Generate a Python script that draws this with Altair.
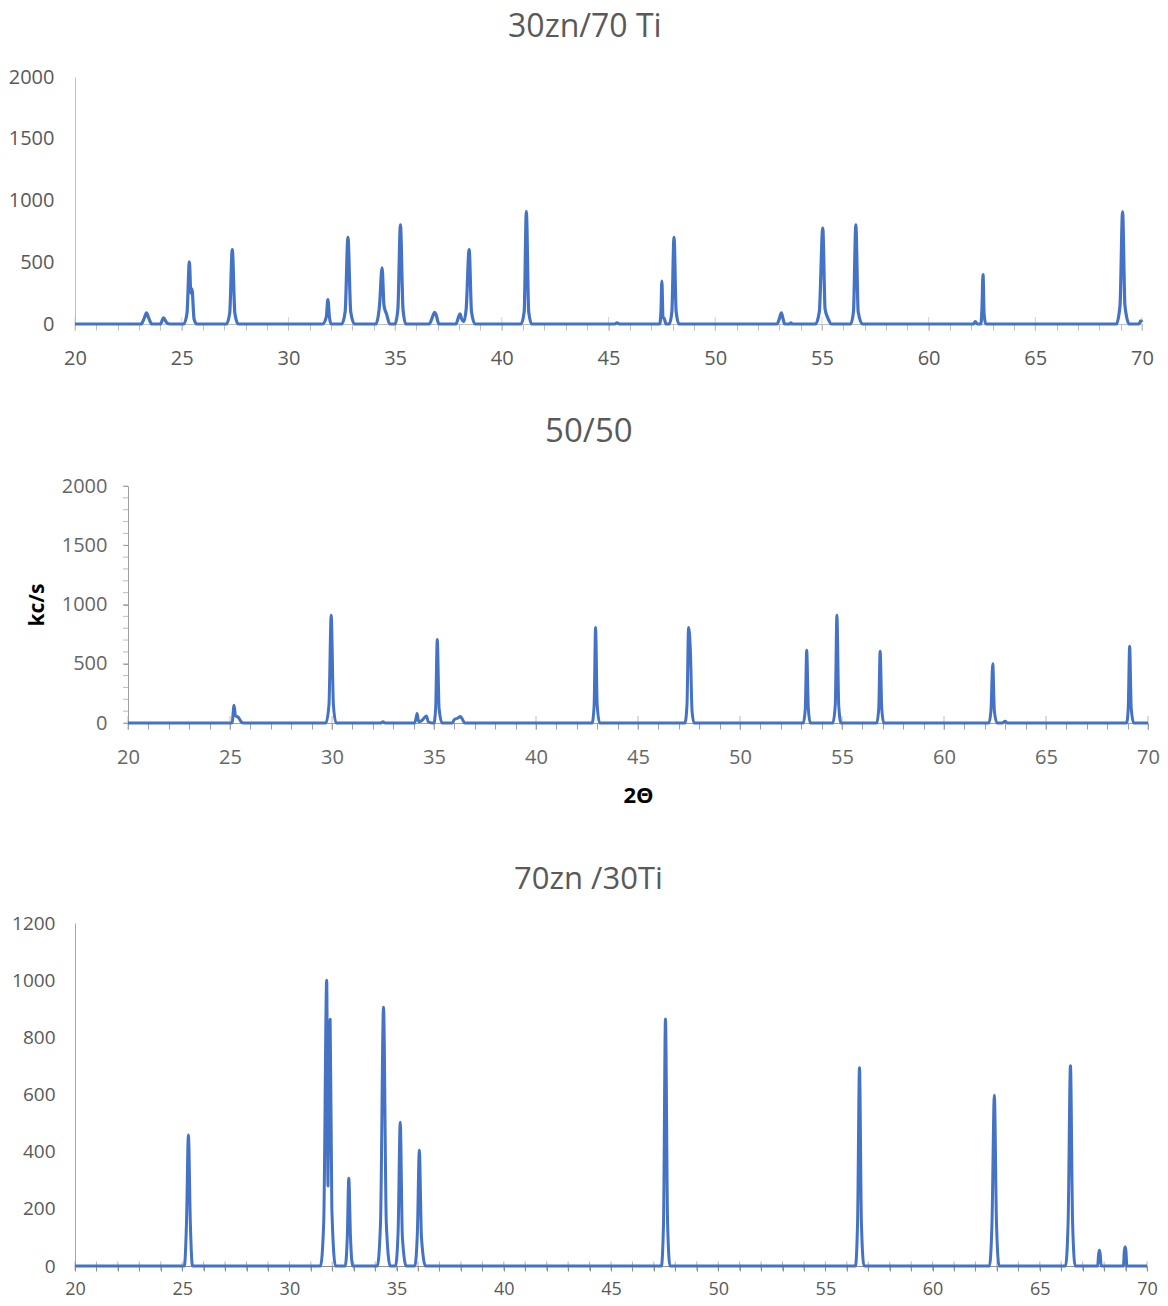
import altair as alt
import pandas as pd

# ---------------- data ----------------
x_30zn_70ti = [20.0,
    23.1, 23.25, 23.35, 23.45, 23.6,
    24.0, 24.15, 24.3, 24.45,
    25.1, 25.25, 25.36, 25.43, 25.48, 25.58, 25.7,
    27.1, 27.25, 27.37, 27.49, 27.65,
    31.6, 31.78, 31.85, 31.92, 32.0,
    32.5, 32.66, 32.79, 32.92, 33.1,
    34.1, 34.27, 34.39, 34.48, 34.6, 34.75,
    35.0, 35.13, 35.25, 35.37, 35.5,
    36.6, 36.78, 36.85, 36.93, 37.05,
    37.85, 37.98, 38.04, 38.12, 38.22, 38.33, 38.47, 38.58, 38.75,
    40.9, 41.05, 41.15, 41.26, 41.4,
    45.3, 45.4, 45.5,
    47.4, 47.46, 47.5, 47.55, 47.62, 47.7,
    47.85, 47.97, 48.07, 48.17, 48.3,
    52.9, 53.02, 53.1, 53.17, 53.25,
    53.5, 53.55, 53.6,
    54.7, 54.88, 55.04, 55.15, 55.3, 55.45,
    56.35, 56.48, 56.59, 56.7, 56.9,
    62.1, 62.19, 62.28, 62.45, 62.5, 62.55, 62.6, 62.68,
    68.8, 68.97, 69.09, 69.2, 69.4,
    69.85, 69.95, 70.0]
y_30zn_70ti = [0,
    0, 50, 90, 50, 0,
    0, 50, 10, 0,
    0, 90, 503, 250, 285, 40, 0,
    0, 90, 603, 90, 0,
    0, 60, 198, 60, 0,
    0, 100, 701, 100, 0,
    0, 150, 454, 150, 80, 0,
    0, 120, 802, 120, 0,
    0, 70, 95, 70, 0,
    0, 60, 82, 40, 20, 120, 603, 100, 0,
    0, 100, 910, 100, 0,
    0, 10, 0,
    0, 100, 348, 60, 40, 0,
    0, 100, 701, 100, 0,
    0, 50, 90, 50, 0,
    0, 10, 0,
    0, 100, 777, 120, 40, 0,
    0, 100, 802, 100, 0,
    0, 20, 0, 0, 120, 400, 80, 0,
    0, 150, 908, 150, 0,
    0, 25, 15]

x_50_50 = [20.0,
    25.1, 25.2, 25.27, 25.4, 25.55, 25.65,
    29.7, 29.85, 29.96, 30.07, 30.2,
    32.4, 32.5, 32.6,
    34.05, 34.12, 34.17, 34.25, 34.4, 34.63, 34.72, 34.9,
    35.0, 35.08, 35.16, 35.25, 35.4,
    35.9, 36.0, 36.15, 36.3, 36.4, 36.5,
    42.75, 42.85, 42.92, 43.0, 43.12,
    47.3, 47.4, 47.48, 47.57, 47.65, 47.75,
    53.1, 53.2, 53.27, 53.35, 53.45,
    54.55, 54.67, 54.75, 54.84, 54.95,
    56.7, 56.8, 56.87, 56.95, 57.05,
    62.2, 62.3, 62.39, 62.47, 62.6, 62.85, 63.0, 63.1,
    68.95, 69.03, 69.1, 69.18, 69.3,
    70.0]
y_50_50 = [0,
    0, 150, 60, 50, 10, 0,
    0, 150, 910, 150, 0,
    0, 10, 0,
    0, 40, 80, 10, 20, 60, 10, 0,
    0, 120, 704, 120, 0,
    0, 30, 40, 55, 30, 0,
    0, 150, 806, 150, 0,
    0, 150, 806, 600, 100, 0,
    0, 120, 614, 120, 0,
    0, 150, 910, 150, 0,
    0, 120, 606, 120, 0,
    0, 100, 501, 100, 0, 0, 15, 0,
    0, 120, 648, 120, 0,
    0]

x_70zn_30ti = [20.0,
    25.1, 25.2, 25.29, 25.38, 25.48,
    31.45, 31.6, 31.74, 31.8, 31.85, 31.9, 31.98, 32.15,
    32.6, 32.7, 32.77, 32.85, 32.95,
    34.1, 34.25, 34.39, 34.52, 34.7,
    34.95, 35.07, 35.17, 35.27, 35.45,
    35.85, 35.97, 36.06, 36.16, 36.35,
    47.35, 47.45, 47.54, 47.64, 47.75,
    56.4, 56.5, 56.59, 56.68, 56.8,
    62.65, 62.77, 62.88, 62.98, 63.1,
    66.2, 66.32, 66.43, 66.53, 66.65,
    67.7, 67.74, 67.78, 67.82, 67.86,
    68.9, 68.94, 68.98, 69.02, 69.06,
    70.0]
y_70zn_30ti = [0,
    0, 150, 458, 150, 0,
    0, 150, 1000, 280, 700, 863, 200, 0,
    0, 100, 307, 100, 0,
    0, 150, 905, 150, 0,
    0, 120, 503, 100, 0,
    0, 120, 405, 100, 0,
    0, 150, 864, 150, 0,
    0, 150, 694, 150, 0,
    0, 150, 597, 150, 0,
    0, 150, 701, 150, 0,
    0, 40, 55, 40, 0,
    0, 50, 67, 50, 0,
    0]

titles = ["30zn/70 Ti", "50/50", "70zn /30Ti"]
x_all_ticks = list(range(20, 71))
x_major_ticks = [20, 25, 30, 35, 40, 45, 50, 55, 60, 65, 70]
y_ticks_top = [0, 500, 1000, 1500, 2000]
y_minor_mid = list(range(0, 2001, 100))
y_ticks_bottom = [0, 200, 400, 600, 800, 1000, 1200]

# ---------------- styling ----------------
BLUE = "#4472C4"
FONT = "Open Sans"
TXT = "#595959"
XDOM = alt.Scale(domain=[20, 70], nice=False, zero=False)
LBL5 = "datum.value % 5 === 0 ? datum.label : ''"


def xaxis(color, tick, pad, size, lcolor, title=None):
    kw = dict(values=x_all_ticks, labelExpr=LBL5, tickSize=tick, tickColor=color,
              domainColor=color, labelFontSize=size, labelColor=lcolor, labelFont=FONT,
              labelPadding=pad, labelFlush=False, labelOverlap=False, grid=False,
              format="d")
    if title:
        kw.update(title=title, titleFont=FONT, titleFontSize=22, titleFontWeight="bold",
                  titleColor="#000000", titlePadding=18)
    else:
        kw.update(title=None)
    return alt.Axis(**kw)


def panel(xs, ys, title, tsize, toff, tdx, width, height, ydomain, yaxis, xax,
          tick_vals, tick_size, tick_color, stroke, minor_y=None, minor_color=None):
    ysc = alt.Scale(domain=ydomain, nice=False)
    df = pd.DataFrame({"x": xs, "y": ys})
    ticks = alt.Chart(pd.DataFrame({"x": tick_vals})).mark_tick(
        orient="vertical", size=tick_size, thickness=1, color=tick_color
    ).encode(x=alt.X("x:Q", scale=XDOM, axis=xax),
             y=alt.YDatum(0, scale=ysc, axis=yaxis))
    layers = [ticks]
    if minor_y is not None:
        layers.append(
            alt.Chart(pd.DataFrame({"y": minor_y})).mark_tick(
                orient="horizontal", size=5, thickness=1, color=minor_color, xOffset=-2.5
            ).encode(y=alt.Y("y:Q", scale=ysc, axis=yaxis),
                     x=alt.XDatum(20, scale=XDOM, axis=xax))
        )
    line = alt.Chart(df).mark_line(
        color=BLUE, strokeWidth=stroke, interpolate="monotone", strokeJoin="round"
    ).encode(
        x=alt.X("x:Q", scale=XDOM, axis=xax),
        y=alt.Y("y:Q", scale=ysc, axis=yaxis),
    )
    layers.append(line)
    return alt.layer(*layers).properties(
        width=width, height=height,
        title=alt.TitleParams(title, font=FONT, fontSize=tsize, fontWeight="normal",
                              color=TXT, offset=toff, frame="bounds", dx=tdx),
    )


p1 = panel(
    x_30zn_70ti, y_30zn_70ti, titles[0], 32, 23, 4, 1067, 247, [0, 2000],
    alt.Axis(values=y_ticks_top, ticks=False, tickSize=0, labelPadding=21, format="d",
             domainColor="#BFBFBF", labelFontSize=20, labelColor=TXT, labelFont=FONT,
             grid=False, title=None),
    xaxis("#BFBFBF", 6, 18, 20, TXT),
    x_major_ticks, 14, "#BFBFBF", 3.2,
)

p2 = panel(
    x_50_50, y_50_50, titles[1], 33, 27, -4, 1020, 237, [0, 2000],
    alt.Axis(values=y_ticks_top, format="d", tickSize=5, tickColor="#A0A0A0",
             labelPadding=16, domainColor="#A0A0A0",
             labelFontSize=20, labelColor="#666666", labelFont=FONT,
             grid=False, title="kc/s", titleFont=FONT, titleFontSize=21,
             titleFontWeight="bold", titleColor="#000000", titlePadding=14),
    xaxis("#A0A0A0", 6, 18, 20, "#666666", title="2\u0398"),
    x_major_ticks, 14, "#A0A0A0", 3, minor_y=y_minor_mid, minor_color="#A0A0A0",
)

spacer = alt.Chart(pd.DataFrame({"s": [0]})).mark_point(opacity=0).encode(
    x=alt.X("s:Q", axis=None), y=alt.Y("s:Q", axis=None)
).properties(width=53, height=10)

p2row = alt.hconcat(spacer, p2, spacing=0, bounds="flush")

p3 = panel(
    x_70zn_30ti, y_70zn_30ti, titles[2], 31, 18, 4, 1072, 343, [0, 1200],
    alt.Axis(values=y_ticks_bottom, ticks=False, tickSize=0, labelPadding=20, format="d",
             domainColor="#A6A6A6", labelFontSize=19, labelColor=TXT, labelFont=FONT,
             grid=False, title=None),
    xaxis("#8E8E8E", 5, 9, 18, TXT),
    x_all_ticks, 9, "#8E8E8E", 3,
)

top = alt.vconcat(p1, p2row, spacing=48)
chart = alt.vconcat(top, p3, spacing=58).configure_view(stroke=None).properties(
    padding={"left": 0, "right": 0, "top": 3, "bottom": 0}
)

chart.save("out.html", embed_options={"renderer": "svg", "actions": False})
